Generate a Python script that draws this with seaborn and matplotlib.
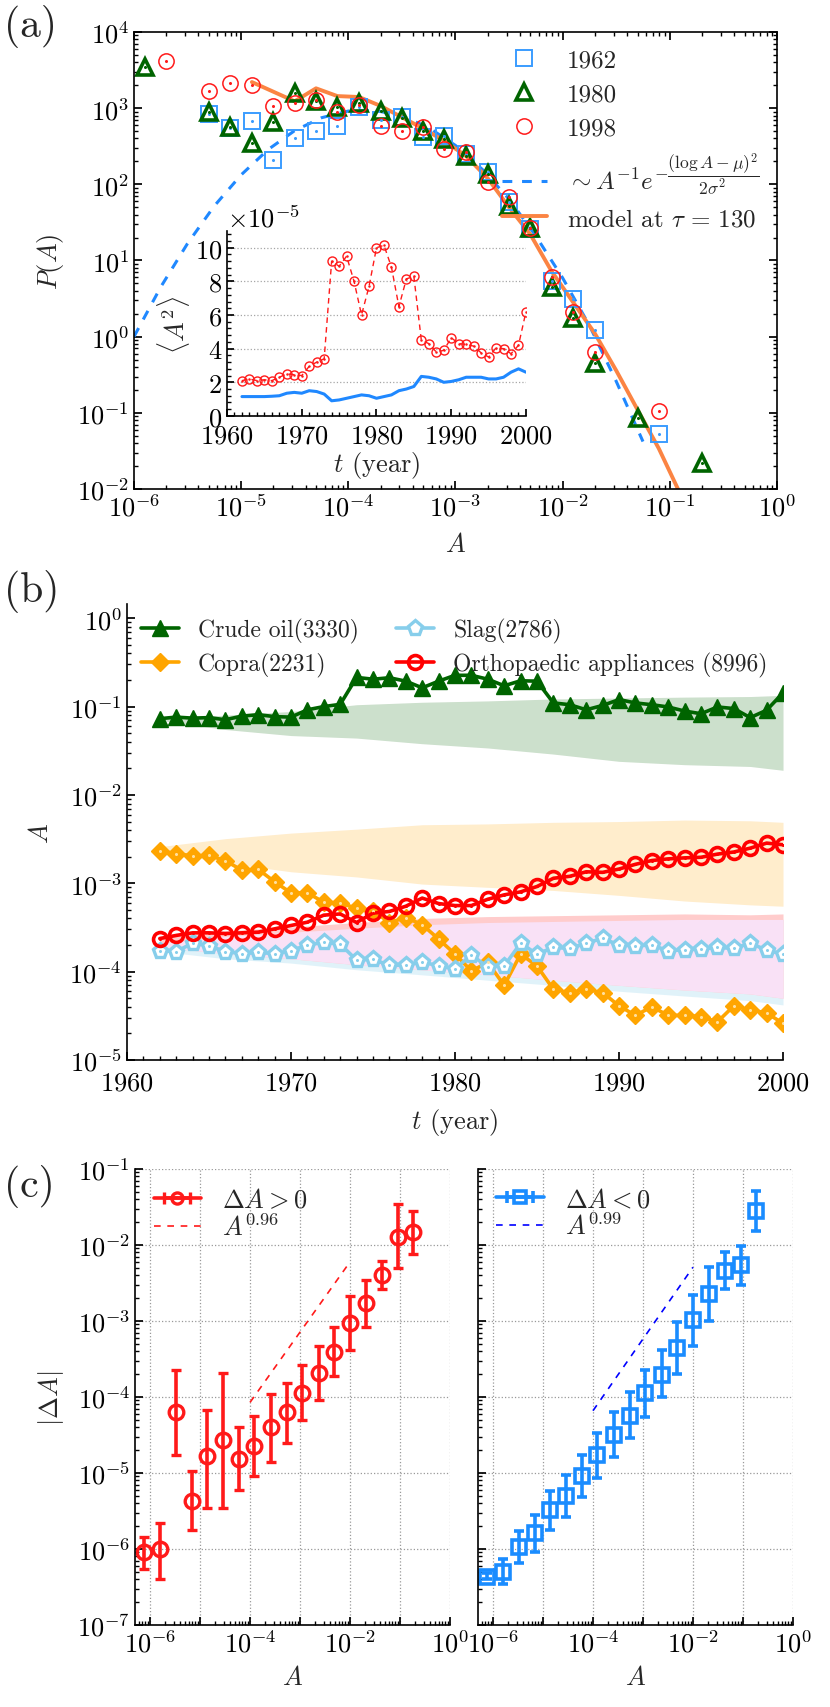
import numpy as np
import matplotlib
matplotlib.use("Agg")
import matplotlib.pyplot as plt
import matplotlib.ticker as mticker
import seaborn as sns

# ---------------- panel (a): P(A) for three years ----------------
a1962_A = [5.0e-6, 7.9e-6, 1.26e-5, 2.0e-5, 3.16e-5, 5.0e-5, 7.9e-5, 1.26e-4, 2.0e-4, 3.16e-4,
           5.0e-4, 7.9e-4, 1.26e-3, 2.0e-3, 3.16e-3, 5.0e-3, 7.9e-3, 1.26e-2, 2.0e-2, 7.9e-2]
a1962_P = [830, 550, 680, 210, 400, 500, 580, 1030, 690, 760,
           415, 425, 250, 145, 58, 26, 5.3, 3.1, 1.23, 0.052]

a1980_A = [1.26e-6, 5.0e-6, 7.9e-6, 1.26e-5, 2.0e-5, 3.16e-5, 5.0e-5, 7.9e-5, 1.26e-4, 2.0e-4, 3.16e-4,
           5.0e-4, 7.9e-4, 1.26e-3, 2.0e-3, 3.16e-3, 5.0e-3, 7.9e-3, 1.26e-2, 2.0e-2, 5.0e-2, 0.2]
a1980_P = [3470, 890, 560, 345, 660, 1580, 1230, 1030, 1170, 920, 740,
           500, 390, 235, 135, 52, 27, 4.5, 1.78, 0.45, 0.085, 0.022]

a1998_A = [2.0e-6, 5.0e-6, 7.9e-6, 1.26e-5, 2.0e-5, 3.16e-5, 5.0e-5, 7.9e-5, 1.26e-4, 2.0e-4, 3.16e-4,
           5.0e-4, 7.9e-4, 1.26e-3, 2.0e-3, 3.16e-3, 5.0e-3, 7.9e-3, 1.26e-2, 2.0e-2, 7.9e-2]
a1998_P = [4170, 1660, 2140, 2000, 1060, 1170, 1270, 890, 1100, 580, 500,
           565, 290, 262, 107, 68, 27, 6.0, 2.1, 0.63, 0.107]

lognorm_A = [1e-6, 1.78e-6, 3.16e-6, 5.62e-6, 1e-5, 1.78e-5, 3.16e-5, 5.62e-5, 1e-4, 1.78e-4,
             3.16e-4, 5.62e-4, 1e-3, 1.78e-3, 3.16e-3, 5.62e-3, 1e-2, 1.78e-2, 3.16e-2, 5.62e-2]
lognorm_P = [1.0, 4.5, 16.7, 52, 133, 285, 507, 748, 916, 933,
             791, 556, 324, 157, 64, 21, 5.9, 1.4, 0.26, 0.042]

model_A = [1.26e-5, 3.16e-5, 5.0e-5, 7.9e-5, 1.26e-4, 2.0e-4, 3.16e-4, 5.0e-4, 7.9e-4, 1.26e-3,
           2.0e-3, 3.16e-3, 5.0e-3, 7.9e-3, 1.26e-2, 2.0e-2, 3.16e-2, 5.0e-2, 7.9e-2, 0.12]
model_P = [2200, 1230, 1820, 1440, 1400, 1070, 760, 540, 370, 234,
           120, 50, 22, 7.2, 2.8, 1.1, 0.36, 0.11, 0.034, 0.0098]

# inset: <A^2> per year (units of 1e-5)
inset_years = list(range(1962, 2001))
inset_red = [2.1, 2.2, 2.1, 2.15, 2.1, 2.3, 2.5, 2.45, 2.4, 2.95, 3.2, 3.4, 9.2, 8.9, 9.5, 8.0, 6.0, 7.7,
             10.0, 10.15, 8.85, 6.5, 8.15, 8.3, 4.5, 4.3, 3.8, 3.9, 4.65, 4.3, 4.25, 4.15, 3.75, 3.5,
             4.05, 4.0, 3.7, 4.2, 6.2]
inset_blue = [1.15, 1.15, 1.15, 1.15, 1.17, 1.2, 1.35, 1.4, 1.35, 1.5, 1.45, 1.3, 0.9, 0.95, 1.05, 1.15,
              1.25, 1.2, 1.05, 1.15, 1.25, 1.5, 1.6, 1.75, 2.35, 2.3, 2.2, 2.0, 2.05, 2.15, 2.3, 2.3,
              2.3, 2.2, 2.2, 2.3, 2.6, 2.8, 2.6]
inset_scale = 1e-5

# ---------------- panel (b): A(t) of four products ----------------
years = list(range(1962, 2001))
crude = [0.073, 0.076, 0.074, 0.075, 0.071, 0.078, 0.081, 0.077, 0.076, 0.092, 0.100, 0.106, 0.214,
         0.204, 0.212, 0.194, 0.163, 0.194, 0.226, 0.226, 0.204, 0.172, 0.196, 0.194, 0.110, 0.105,
         0.092, 0.103, 0.120, 0.110, 0.105, 0.099, 0.089, 0.083, 0.099, 0.095, 0.075, 0.091, 0.143]
copra = [2.31e-3, 2.17e-3, 2.04e-3, 2.07e-3, 1.80e-3, 1.41e-3, 1.44e-3, 1.04e-3, 7.8e-4, 7.8e-4,
         6.1e-4, 6.0e-4, 5.2e-4, 4.9e-4, 3.6e-4, 4.1e-4, 3.4e-4, 2.34e-4, 1.58e-4, 1.02e-4, 1.27e-4,
         7.0e-5, 1.58e-4, 1.16e-4, 6.3e-5, 5.8e-5, 6.3e-5, 5.8e-5, 4.1e-5, 3.2e-5, 4.0e-5, 3.2e-5,
         3.2e-5, 3.1e-5, 2.7e-5, 4.1e-5, 3.7e-5, 3.4e-5, 2.6e-5]
slag = [1.72e-4, 1.69e-4, 2.10e-4, 1.96e-4, 1.69e-4, 1.60e-4, 1.65e-4, 1.60e-4, 1.72e-4, 2.01e-4,
        2.14e-4, 2.05e-4, 1.35e-4, 1.38e-4, 1.18e-4, 1.18e-4, 1.29e-4, 1.16e-4, 1.08e-4, 1.54e-4,
        1.13e-4, 1.16e-4, 2.10e-4, 1.58e-4, 1.88e-4, 1.83e-4, 2.10e-4, 2.38e-4, 2.0e-4, 1.96e-4,
        2.0e-4, 1.72e-4, 1.77e-4, 1.80e-4, 1.88e-4, 1.83e-4, 2.10e-4, 1.75e-4, 1.58e-4]
ortho = [2.37e-4, 2.57e-4, 2.75e-4, 2.75e-4, 2.70e-4, 2.75e-4, 2.80e-4, 3.05e-4, 3.33e-4, 3.63e-4,
         4.36e-4, 4.5e-4, 3.6e-4, 4.6e-4, 4.8e-4, 5.5e-4, 6.8e-4, 5.9e-4, 5.6e-4, 5.6e-4,
         6.6e-4, 7.4e-4, 8.0e-4, 9.2e-4, 1.14e-3, 1.20e-3, 1.35e-3, 1.33e-3, 1.45e-3, 1.64e-3,
         1.81e-3, 1.89e-3, 1.94e-3, 1.97e-3, 2.14e-3, 2.26e-3, 2.5e-3, 2.85e-3, 2.73e-3]

band_years = [1962, 1966, 1970, 1974, 1978, 1982, 1986, 1990, 1994, 1998, 2000]
crude_hi = [0.073, 0.080, 0.088, 0.105, 0.112, 0.116, 0.122, 0.125, 0.128, 0.130, 0.134]
crude_lo = [0.070, 0.055, 0.047, 0.044, 0.038, 0.034, 0.029, 0.024, 0.022, 0.021, 0.019]
copra_hi = [2.6e-3, 3.2e-3, 3.7e-3, 4.1e-3, 4.6e-3, 4.7e-3, 4.9e-3, 5.0e-3, 5.2e-3, 5.1e-3, 4.9e-3]
copra_lo = [2.3e-3, 1.7e-3, 1.35e-3, 1.18e-3, 9.8e-4, 9.0e-4, 8.3e-4, 7.3e-4, 6.3e-4, 5.7e-4, 5.5e-4]
ortho_hi = [2.4e-4, 2.9e-4, 3.2e-4, 3.6e-4, 4.0e-4, 4.2e-4, 4.3e-4, 4.4e-4, 4.5e-4, 4.4e-4, 4.5e-4]
ortho_lo = [1.9e-4, 1.6e-4, 1.4e-4, 1.2e-4, 1.05e-4, 9.2e-5, 8.0e-5, 7.0e-5, 6.2e-5, 5.6e-5, 5.0e-5]
slag_hi = [2.1e-4, 2.5e-4, 2.8e-4, 3.1e-4, 3.4e-4, 3.6e-4, 3.7e-4, 3.8e-4, 3.9e-4, 3.9e-4, 3.9e-4]
slag_lo = [1.7e-4, 1.4e-4, 1.25e-4, 1.05e-4, 9.2e-5, 8.0e-5, 7.0e-5, 6.0e-5, 5.3e-5, 4.7e-5, 4.2e-5]

# ---------------- panel (c): |dA| vs A ----------------
c_A = [7.6e-7, 1.58e-6, 3.3e-6, 6.9e-6, 1.38e-5, 2.9e-5, 6.0e-5, 1.2e-4, 2.6e-4, 5.5e-4,
       1.1e-3, 2.4e-3, 4.8e-3, 1.0e-2, 2.1e-2, 4.4e-2, 9.1e-2, 0.18]
pos_mid = [9e-7, 1.0e-6, 6.3e-5, 4.3e-6, 1.65e-5, 2.7e-5, 1.55e-5, 2.3e-5, 4.0e-5, 6.3e-5,
           1.12e-4, 2.1e-4, 3.95e-4, 9.3e-4, 1.7e-3, 4.07e-3, 1.29e-2, 1.47e-2]
pos_lo = [5.5e-7, 4e-7, 1.7e-5, 1.8e-6, 3.5e-6, 3.5e-6, 6e-6, 9e-6, 1.4e-5, 2.5e-5,
          5e-5, 9.2e-5, 1.9e-4, 4.1e-4, 8.4e-4, 2.6e-3, 5e-3, 7.6e-3]
pos_hi = [1.45e-6, 2.2e-6, 2.3e-4, 1.05e-5, 6.7e-5, 2.1e-4, 4e-5, 5.7e-5, 1.1e-4, 1.55e-4,
          2.6e-4, 4.7e-4, 8.3e-4, 2.15e-3, 3.45e-3, 6.2e-3, 3.5e-2, 2.8e-2]
neg_mid = [4.3e-7, 5e-7, 1.05e-6, 1.6e-6, 3.3e-6, 5e-6, 9e-6, 1.7e-5, 3.2e-5, 5.7e-5,
           1.12e-4, 1.96e-4, 4.4e-4, 1.03e-3, 2.27e-3, 4.6e-3, 5.4e-3, 2.8e-2]
neg_lo = [4.0e-7, 3.5e-7, 6.5e-7, 9e-7, 1.8e-6, 2.6e-6, 4.8e-6, 8.5e-6, 1.6e-5, 2.9e-5,
          5.4e-5, 1e-4, 2e-4, 4.7e-4, 1e-3, 2.6e-3, 3e-3, 1.55e-2]
neg_hi = [4.8e-7, 7.5e-7, 1.7e-6, 2.8e-6, 5.8e-6, 9.5e-6, 1.75e-5, 3.4e-5, 6.4e-5, 1.15e-4,
          2.26e-4, 4.1e-4, 9.6e-4, 2.2e-3, 5.2e-3, 8e-3, 9.8e-3, 5.2e-2]
pos_fit_A = [1e-4, 1e-2]
pos_fit_y = [8.5e-5, 6.0e-3]
neg_fit_A = [1e-4, 1e-2]
neg_fit_y = [6.6e-5, 5.1e-3]

# ---------------- style ----------------
sns.set_theme(style="ticks")
plt.rcParams.update({
    "font.family": ["cmr10", "DejaVu Serif"],
    "mathtext.fontset": "cm",
    "axes.formatter.use_mathtext": True,
    "font.size": 19,
    "xtick.labelsize": 19,
    "ytick.labelsize": 19,
    "axes.labelsize": 19,
    "axes.edgecolor": "black",
    "axes.linewidth": 1.2,
    "xtick.direction": "in",
    "ytick.direction": "in",
    "xtick.color": "black",
    "ytick.color": "black",
    "xtick.major.size": 6,
    "ytick.major.size": 6,
    "xtick.minor.size": 3,
    "ytick.minor.size": 3,
    "legend.fontsize": 17,
})

SQ_BLUE = "#3a9cff"
FIT_BLUE = "#1f88ff"
ORANGE_LN = "#fb8443"
DGREEN = "#006400"
RED = "#ff1a1a"

fig = plt.figure(figsize=(8.3, 17.08), dpi=100)


def log_ticks(ax, axis="both"):
    if axis in ("both", "x"):
        ax.xaxis.set_major_locator(mticker.LogLocator(base=10, numticks=20))
        ax.xaxis.set_minor_locator(mticker.LogLocator(base=10, subs=np.arange(2, 10), numticks=20))
        ax.xaxis.set_minor_formatter(mticker.NullFormatter())
    if axis in ("both", "y"):
        ax.yaxis.set_major_locator(mticker.LogLocator(base=10, numticks=20))
        ax.yaxis.set_minor_locator(mticker.LogLocator(base=10, subs=np.arange(2, 10), numticks=20))
        ax.yaxis.set_minor_formatter(mticker.NullFormatter())


# ===== (a) =====
axa = fig.add_axes([0.1614, 0.7131, 0.7747, 0.2676])
axa.set_xscale("log")
axa.set_yscale("log")
sns.lineplot(x=lognorm_A, y=lognorm_P, ax=axa, color=FIT_BLUE, linewidth=2.2,
             linestyle=(0, (3.2, 3.2)),
             label=r"$\sim A^{-1}e^{-\dfrac{(\log A-\mu)^2}{2\sigma^2}}$")
sns.lineplot(x=model_A, y=model_P, ax=axa, color=ORANGE_LN, linewidth=2.8,
             label=r"model at $\tau\,=\,130$")
axa.plot(a1962_A, a1962_P, linestyle="none", marker="s", ms=11, mfc="none", mec=SQ_BLUE,
         mew=1.4, label="1962")
axa.plot(a1980_A, a1980_P, linestyle="none", marker="^", ms=11.5, mfc="none", mec=DGREEN,
         mew=2.6, label="1980")
axa.plot(a1998_A, a1998_P, linestyle="none", marker="o", ms=11, mfc="none", mec=RED,
         mew=1.1, label="1998")
for xs, ys, c in [(a1962_A, a1962_P, SQ_BLUE), (a1980_A, a1980_P, DGREEN), (a1998_A, a1998_P, RED)]:
    axa.plot(xs, ys, linestyle="none", marker="o", ms=1.2, color=c)

axa.set_xlim(1e-6, 1e0)
axa.set_ylim(1e-2, 1e4)
log_ticks(axa)
axa.tick_params(which="both", top=True, right=True)
axa.set_xlabel(r"$A$", labelpad=8)
axa.set_ylabel(r"$P(A)$", labelpad=8)
h, l = axa.get_legend_handles_labels()
order = ["1962", "1980", "1998", l[0], l[1]]
hd = dict(zip(l, h))
axa.legend([hd[k] for k in order], order, loc="upper right", frameon=False, fontsize=18,
           handlelength=1.8, labelspacing=0.45, borderaxespad=0.3, bbox_to_anchor=(1.0, 1.0))

# inset
axi = fig.add_axes([0.2735, 0.7559, 0.3602, 0.1083])
axi.set_facecolor("none")
inset_red_v = [v * inset_scale for v in inset_red]
inset_blue_v = [v * inset_scale for v in inset_blue]
sns.lineplot(x=inset_years, y=inset_blue_v, ax=axi, color=FIT_BLUE, linewidth=2.2)
sns.lineplot(x=inset_years, y=inset_red_v, ax=axi, color=RED, linewidth=1.0,
             linestyle=(0, (4, 3)), marker="o", markersize=6.5, markerfacecolor="none",
             markeredgecolor=RED, markeredgewidth=1.0)
axi.plot(inset_years, inset_red_v, linestyle="none", marker="o", ms=0.8, color=RED)
axi.set_xlim(1960, 2000)
axi.set_ylim(0, 11e-5)
axi.xaxis.set_major_locator(mticker.MultipleLocator(10))
axi.xaxis.set_minor_locator(mticker.MultipleLocator(1))
axi.yaxis.set_major_locator(mticker.MultipleLocator(2e-5))
axi.yaxis.set_minor_locator(mticker.MultipleLocator(0.4e-5))
fmt = mticker.ScalarFormatter(useMathText=True)
fmt.set_powerlimits((-5, -5))
axi.yaxis.set_major_formatter(fmt)
axi.yaxis.get_offset_text().set_fontsize(19)
axi.yaxis.grid(True, which="major", linestyle=":", color="0.65", linewidth=0.9)
for s in ("top", "right"):
    axi.spines[s].set_visible(False)
axi.set_xlabel(r"$t$ (year)", labelpad=1)
axi.set_ylabel(r"$\langle A^2\rangle$", labelpad=2)
axi.tick_params(which="major", length=5)
axi.tick_params(which="minor", length=3)
axi.tick_params(axis="x", pad=6)

# ===== (b) =====
axb = fig.add_axes([0.1530, 0.3788, 0.7904, 0.2670])
axb.set_yscale("log")
axb.fill_between(band_years, crude_lo, crude_hi, color=DGREEN, alpha=0.2, linewidth=0)
axb.fill_between(band_years, copra_lo, copra_hi, color="orange", alpha=0.2, linewidth=0)
axb.fill_between(band_years, slag_lo, slag_hi, color="#a8dcf0", alpha=0.35, linewidth=0)
axb.fill_between(band_years, ortho_lo, ortho_hi, color="#ffcccc", alpha=1.0, linewidth=0)
ov_lo = np.maximum(ortho_lo, slag_lo)
ov_hi = np.minimum(ortho_hi, slag_hi)
axb.fill_between(band_years, ov_lo, ov_hi, color="#f9e1f6", linewidth=0)

sns.lineplot(x=years, y=crude, ax=axb, color=DGREEN, linewidth=2.6, marker="^", markersize=11,
             markerfacecolor=DGREEN, markeredgecolor=DGREEN, markeredgewidth=1.0,
             label="Crude oil(3330)")
sns.lineplot(x=years, y=copra, ax=axb, color="orange", linewidth=2.6, marker="D", markersize=9,
             markerfacecolor="orange", markeredgecolor="orange", markeredgewidth=1.0,
             label="Copra(2231)")
sns.lineplot(x=years, y=slag, ax=axb, color="skyblue", linewidth=2.6, marker="p", markersize=11,
             markerfacecolor="white", markeredgecolor="skyblue", markeredgewidth=2.4,
             label="Slag(2786)")
sns.lineplot(x=years, y=ortho, ax=axb, color="red", linewidth=2.6, marker="o", markersize=10,
             markerfacecolor="none", markeredgecolor="red", markeredgewidth=2.6,
             label="Orthopaedic appliances (8996)")
axb.plot(years, copra, linestyle="none", marker="o", ms=1.2, color="#ffe0a0")
axb.plot(years, slag, linestyle="none", marker="o", ms=1.2, color="skyblue")
axb.plot(years, ortho, linestyle="none", marker="o", ms=1.2, color="red")

axb.set_xlim(1960, 2000)
axb.set_ylim(1e-5, 1.45)
log_ticks(axb, "y")
axb.xaxis.set_major_locator(mticker.MultipleLocator(10))
axb.xaxis.set_minor_locator(mticker.MultipleLocator(1))
for s in ("top", "right"):
    axb.spines[s].set_visible(False)
axb.tick_params(axis="x", pad=8)
axb.set_xlabel(r"$t$ (year)", labelpad=8)
axb.set_ylabel(r"$A$", labelpad=12)
axb.legend(loc="upper left", ncol=2, frameon=False, handlelength=1.6, columnspacing=1.6,
           labelspacing=0.35, borderaxespad=0.2, bbox_to_anchor=(0.0, 1.0), fontsize=17)

# ===== (c) =====
def even_fmt(v, p):
    e = int(round(np.log10(v)))
    return r"$10^{%d}$" % e if e % 2 == 0 else ""


def style_c(ax):
    ax.set_xscale("log")
    ax.set_yscale("log")
    ax.set_xlim(10 ** -6.3, 1.0)
    ax.set_ylim(1e-7, 1e-1)
    log_ticks(ax)
    ax.xaxis.set_major_formatter(mticker.FuncFormatter(even_fmt))
    ax.grid(True, which="major", linestyle=":", color="0.6", linewidth=0.9)
    for s in ("top", "right"):
        ax.spines[s].set_visible(False)
    ax.set_xlabel(r"$A$", labelpad=6)


axc1 = fig.add_axes([0.1627, 0.0480, 0.3795, 0.2670])
style_c(axc1)
pm = np.array(pos_mid)
axc1.errorbar(c_A, pos_mid, yerr=[pm - np.array(pos_lo), np.array(pos_hi) - pm], fmt="o", ms=10.5,
              mfc="none", mec=RED, mew=2.4, color=RED, elinewidth=2.6, capsize=3.5, capthick=2.6)
sns.lineplot(x=pos_fit_A, y=pos_fit_y, ax=axc1, color=RED, linewidth=1.2,
             linestyle=(0, (4, 4)), label=r"$A^{0.96}$")
ph = axc1.errorbar([np.nan], [np.nan], xerr=[[np.nan], [np.nan]], fmt="-o", ms=8, mfc="none",
                   mec=RED, mew=2.4, color=RED, lw=2.6, elinewidth=2.6, capsize=4, capthick=2.6)
hl = axc1.get_legend_handles_labels()
axc1.legend([ph, hl[0][0]], [r"$\Delta A>0$", r"$A^{0.96}$"], loc="upper left", frameon=False,
            handlelength=1.8, labelspacing=0.05, borderaxespad=0.3, fontsize=19)
axc1.set_ylabel(r"$|\Delta A|$", labelpad=8)

axc2 = fig.add_axes([0.5759, 0.0480, 0.3795, 0.2670])
style_c(axc2)
nm = np.array(neg_mid)
axc2.errorbar(c_A, neg_mid, yerr=[nm - np.array(neg_lo), np.array(neg_hi) - nm], fmt="s", ms=10,
              mfc="none", mec="#1a8cff", mew=2.6, color="#1a8cff", elinewidth=2.6, capsize=3.5,
              capthick=2.6)
sns.lineplot(x=neg_fit_A, y=neg_fit_y, ax=axc2, color="#0000ff", linewidth=1.2,
             linestyle=(0, (4, 4)), label=r"$A^{0.99}$")
nh = axc2.errorbar([np.nan], [np.nan], xerr=[[np.nan], [np.nan]], fmt="-s", ms=8, mfc="none",
                   mec="#1a8cff", mew=2.6, color="#1a8cff", lw=2.6, elinewidth=2.6, capsize=4,
                   capthick=2.6)
hl2 = axc2.get_legend_handles_labels()
axc2.legend([nh, hl2[0][0]], [r"$\Delta A<0$", r"$A^{0.99}$"], loc="upper left", frameon=False,
            handlelength=1.8, labelspacing=0.05, borderaxespad=0.3, fontsize=19)
axc2.yaxis.set_major_formatter(mticker.NullFormatter())
axc2.set_ylabel("")

# panel letters
fig.text(0.005, 0.997, "(a)", fontsize=30, va="top", ha="left")
fig.text(0.005, 0.666, "(b)", fontsize=30, va="top", ha="left")
fig.text(0.005, 0.318, "(c)", fontsize=30, va="top", ha="left")

fig.savefig("out.png", dpi=100)
